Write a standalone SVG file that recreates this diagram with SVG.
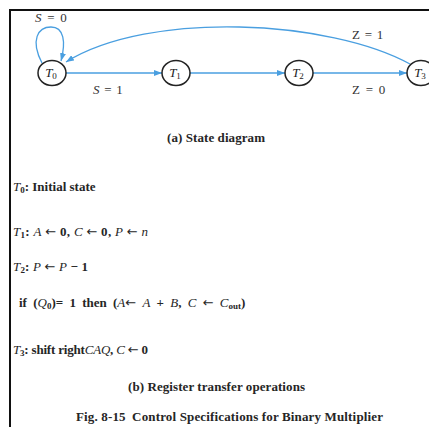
<svg xmlns="http://www.w3.org/2000/svg" width="429" height="427" viewBox="0 0 429 427">
<style>
.t{font-family:"Liberation Serif","Times New Roman",serif;fill:#262626;font-size:13px;font-weight:bold}
.i{font-style:italic;font-weight:normal}
.ar{font-family:"DejaVu Sans",sans-serif;font-weight:normal;font-size:13px}
.lb{font-family:"Liberation Serif","Times New Roman",serif;fill:#333;font-size:13px}
.nl{font-family:"Liberation Serif","Times New Roman",serif;fill:#222;font-size:13px}
.nd{fill:#fff;stroke:#222;stroke-width:1.5}
.e{fill:none;stroke:#4a9fe0;stroke-width:1.3}
</style>
<defs>
<marker id="ah" markerWidth="8" markerHeight="6" refX="8" refY="3" orient="auto" markerUnits="userSpaceOnUse">
<path d="M0,0 L8,3 L0,6 z" fill="#4a9fe0"/>
</marker>
</defs>
<rect width="429" height="427" fill="#fff"/>
<path d="M9 10 H429 M10 9 V427" stroke="#111" stroke-width="2" fill="none"/>
<g id="connectors">
<path class="e" d="M66 73 L162 73" marker-end="url(#ah)"/>
<path class="e" d="M190 73 L285 73" marker-end="url(#ah)"/>
<path class="e" d="M313 73 L407 73" marker-end="url(#ah)"/>
<path class="e" d="M410 64 C330 20 150 10 66 62" marker-end="url(#ah)"/>
<path class="e" d="M42 63 C30 40 38 27 51 27 C64 27 66 42 61 61" marker-end="url(#ah)"/>
<text class="lb" x="35" y="22" word-spacing="2.5"><tspan class="i">S</tspan> = 0</text>
<text class="lb" x="93" y="94" word-spacing="1.5"><tspan class="i">S</tspan> = 1</text>
<text class="lb" x="352" y="39" word-spacing="1.5">Z = 1</text>
<text class="lb" x="352" y="94" word-spacing="2.5">Z = 0</text>
</g>
<g id="T0"><ellipse class="nd" cx="52" cy="73" rx="14" ry="12.5"/><text class="nl" x="51" y="77" text-anchor="middle"><tspan class="i">T</tspan><tspan font-size="9" dy="2">0</tspan></text></g>
<g id="T1"><ellipse class="nd" cx="176" cy="73" rx="14" ry="12.5"/><text class="nl" x="175" y="77" text-anchor="middle"><tspan class="i">T</tspan><tspan font-size="9" dy="2">1</tspan></text></g>
<g id="T2"><ellipse class="nd" cx="299" cy="73" rx="14" ry="12.5"/><text class="nl" x="298" y="77" text-anchor="middle"><tspan class="i">T</tspan><tspan font-size="9" dy="2">2</tspan></text></g>
<g id="T3"><ellipse class="nd" cx="421" cy="73" rx="14" ry="12.5"/><text class="nl" x="420" y="77" text-anchor="middle"><tspan class="i">T</tspan><tspan font-size="9" dy="2">3</tspan></text></g>
<text class="t" x="167" y="142" textLength="98" lengthAdjust="spacing">(a) State diagram</text>
<text class="t" x="13" y="191"><tspan class="i">T</tspan><tspan font-size="9" dy="2">0</tspan><tspan dy="-2">: Initial state</tspan></text>
<text class="t" x="13" y="236" textLength="135" lengthAdjust="spacing"><tspan class="i">T</tspan><tspan font-size="9" dy="2">1</tspan><tspan dy="-2">: </tspan><tspan class="i">A</tspan> <tspan class="ar">←</tspan> 0, <tspan class="i">C</tspan> <tspan class="ar">←</tspan> 0, <tspan class="i">P</tspan> <tspan class="ar">←</tspan> <tspan class="i">n</tspan></text>
<text class="t" x="13" y="271" textLength="75" lengthAdjust="spacing"><tspan class="i">T</tspan><tspan font-size="9" dy="2">2</tspan><tspan dy="-2">: </tspan><tspan class="i">P</tspan> <tspan class="ar">←</tspan> <tspan class="i">P</tspan> − 1</text>
<text class="t" x="19" y="307" word-spacing="3">if (<tspan class="i">Q</tspan><tspan font-size="9" dy="2">0</tspan><tspan dy="-2">)= 1 then (</tspan><tspan class="i">A</tspan><tspan class="ar">←</tspan> <tspan class="i">A</tspan> + <tspan class="i">B</tspan>, <tspan class="i">C</tspan> <tspan class="ar">←</tspan> <tspan class="i">C</tspan><tspan font-size="9" dy="2">out</tspan><tspan dy="-2">)</tspan></text>
<text class="t" x="13" y="354" textLength="135" lengthAdjust="spacing"><tspan class="i">T</tspan><tspan font-size="9" dy="2">3</tspan><tspan dy="-2">: shift right</tspan><tspan class="i">CAQ</tspan>, <tspan class="i">C</tspan> <tspan class="ar">←</tspan> 0</text>
<text class="t" x="128" y="391" textLength="177" lengthAdjust="spacing">(b) Register transfer operations</text>
<text class="t" x="76" y="421" textLength="307" lengthAdjust="spacing">Fig. 8-15 <tspan dx="3">Control Specifications for Binary Multiplier</tspan></text>
</svg>
